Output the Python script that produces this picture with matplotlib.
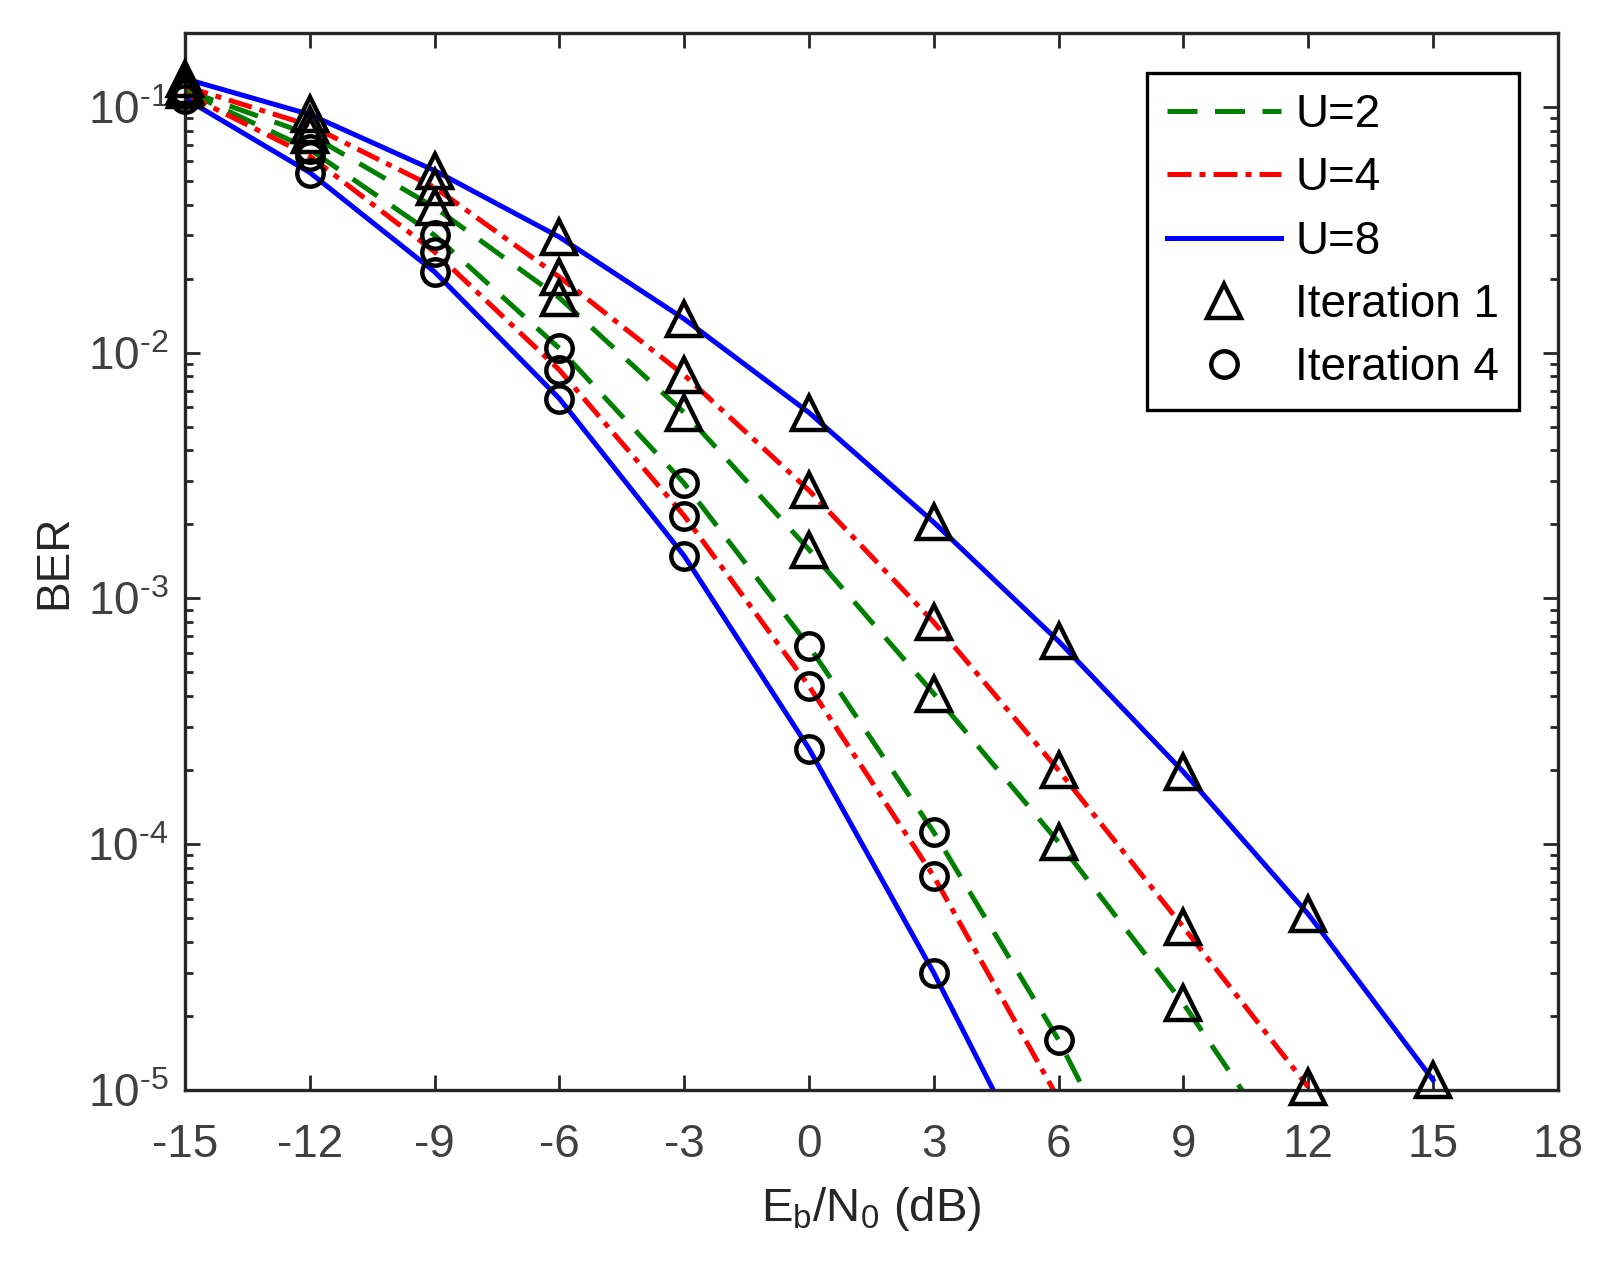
import numpy as np
import matplotlib
matplotlib.use('Agg')
import matplotlib.pyplot as plt
from matplotlib.lines import Line2D
from matplotlib.ticker import FuncFormatter

plt.rcParams['font.family'] = ['Liberation Sans', 'DejaVu Sans']
plt.rcParams['mathtext.fontset'] = 'custom'
plt.rcParams['mathtext.rm'] = 'Liberation Sans'
plt.rcParams['mathtext.it'] = 'Liberation Sans:italic'
plt.rcParams['axes.unicode_minus'] = False

nan = np.nan

# Eb/N0 grid (dB)
snr_db = [-15, -12, -9, -6, -3, 0, 3, 6, 9, 12, 15]

# iteration 1 (triangles)
ber_u2_it1 = [0.117, 0.077, 0.039, 0.0167, 0.0057, 0.00158, 4.1e-4, 1.02e-4, 2.25e-5, 4.0e-6, nan]
ber_u4_it1 = [0.121, 0.084, 0.047, 0.0203, 0.0081, 0.00275, 8.0e-4, 2.0e-4, 4.6e-5, 1.03e-5, nan]
ber_u8_it1 = [0.130, 0.093, 0.055, 0.0295, 0.0137, 0.0057, 0.00204, 6.7e-4, 1.97e-4, 5.2e-5, 1.1e-5]

# iteration 4 (circles)
ber_u2_it4 = [0.116, 0.067, 0.030, 0.0104, 0.00294, 6.4e-4, 1.12e-4, 1.6e-5, 1.6e-6, nan, nan]
ber_u4_it4 = [0.113, 0.063, 0.0257, 0.0085, 0.00217, 4.4e-4, 7.4e-5, 9.2e-6, nan, nan, nan]
ber_u8_it4 = [0.108, 0.054, 0.0213, 0.0065, 0.00149, 2.45e-4, 3.0e-5, 3.0e-6, nan, nan, nan]

legend_labels = ['U=2', 'U=4', 'U=8', 'Iteration 1', 'Iteration 4']

green = '#008000'
red = '#ff0000'
blue = '#0000ff'
dash_u2 = (6.0, 3.5)
dash_u4 = (4.8, 1.6, 1.2, 1.6)
lw = 3.6
tri_ms, circ_ms, mew = 24, 19, 3.2

fig = plt.figure(figsize=(16, 12.73), dpi=100)
ax = fig.add_axes([0.1156, 0.1437, 0.858, 0.8306])
ax.set_yscale('log')

x = np.array(snr_db, dtype=float)
curves = [
    (ber_u2_it1, green, dash_u2, '^'),
    (ber_u2_it4, green, dash_u2, 'o'),
    (ber_u4_it1, red, dash_u4, '^'),
    (ber_u4_it4, red, dash_u4, 'o'),
    (ber_u8_it1, blue, None, '^'),
    (ber_u8_it4, blue, None, 'o'),
]

for ber, col, dash, mk in curves:
    y = np.array(ber, dtype=float)
    if dash is None:
        ax.plot(x, y, color=col, lw=lw, ls='-', zorder=2)
    else:
        ax.plot(x, y, color=col, lw=lw, dashes=dash, zorder=2)

# markers only where the point is on the plot, not clipped at the frame
for ber, col, dash, mk in curves:
    y = np.array(ber, dtype=float)
    keep = y >= 0.98e-5
    ms = tri_ms if mk == '^' else circ_ms
    ax.plot(x[keep], y[keep], ls='none', marker=mk, ms=ms, mfc='none',
            mec='k', mew=mew, clip_on=False, zorder=3)

ax.set_xlim(-15, 18)
ax.set_ylim(1e-5, 0.2)
ax.set_xticks(range(-15, 19, 3))


def decade_label(v, pos):
    e = int(round(np.log10(v)))
    if e < 0:
        return r'$\mathregular{10^{\text{-}%d}}$' % (-e)
    return r'$\mathregular{10^{%d}}$' % e


ax.yaxis.set_major_formatter(FuncFormatter(decade_label))

ax.tick_params(which='both', direction='in', top=True, right=True,
               width=2.0, color='#262626', labelcolor='#404040')
ax.tick_params(which='major', length=10.8, labelsize=33)
ax.tick_params(which='minor', length=5.8)
ax.tick_params(axis='x', pad=24)
ax.tick_params(axis='y', pad=12)
for sp in ax.spines.values():
    sp.set_linewidth(2.4)
    sp.set_color('#262626')

ax.set_xlabel(r'E$_\mathregular{b}$/N$_\mathregular{0}$ (dB)', fontsize=34,
              color='#262626', labelpad=13)
ax.set_ylabel('BER', fontsize=33, color='#262626', labelpad=8)

handles = [
    Line2D([], [], color=green, lw=lw, dashes=dash_u2),
    Line2D([], [], color=red, lw=lw, dashes=dash_u4),
    Line2D([], [], color=blue, lw=lw, ls='-'),
    Line2D([], [], ls='none', marker='^', ms=tri_ms, mfc='none', mec='k', mew=mew),
    Line2D([], [], ls='none', marker='o', ms=circ_ms, mfc='none', mec='k', mew=mew),
]
leg = ax.legend(handles, legend_labels, loc='upper right',
                bbox_to_anchor=(0.972, 0.962), borderaxespad=0,
                fontsize=33, handlelength=2.5, handletextpad=0.3,
                labelspacing=0.42, borderpad=0.44, fancybox=False,
                framealpha=1, edgecolor='k')
leg.get_frame().set_linewidth(2.4)

fig.savefig('out.png', dpi=100)
